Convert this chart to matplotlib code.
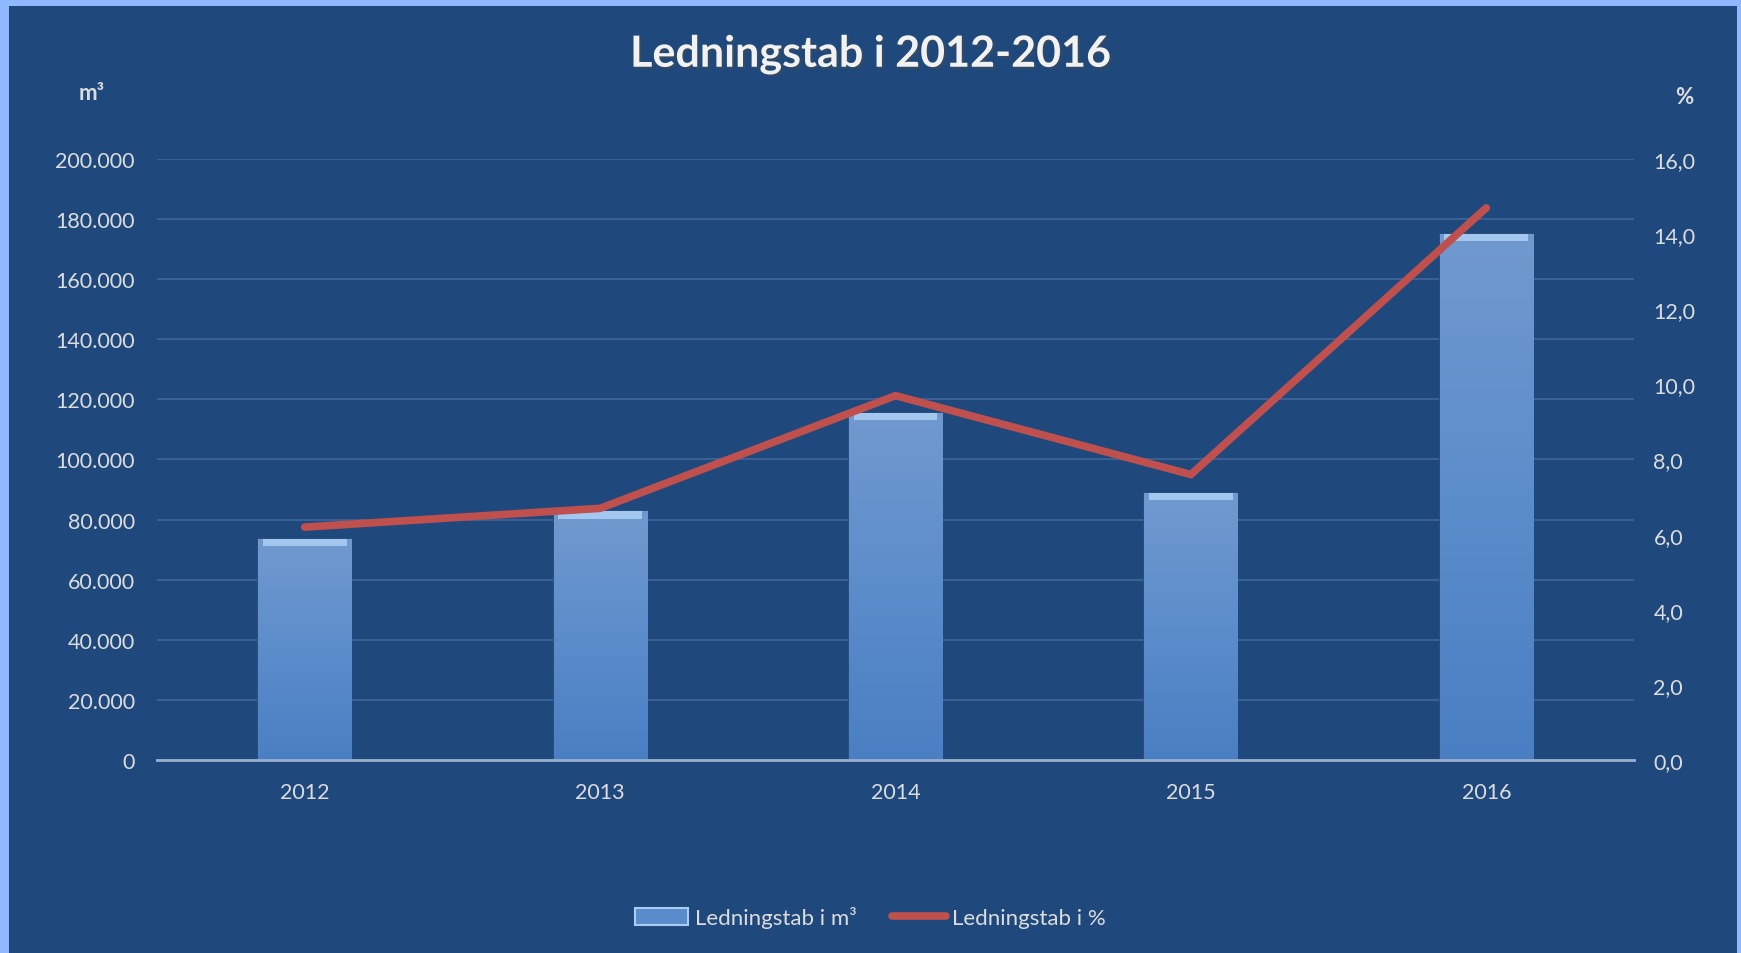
import numpy as np
import matplotlib.pyplot as plt
from matplotlib.patches import Rectangle, Patch
from matplotlib.lines import Line2D
from matplotlib.colors import LinearSegmentedColormap
import matplotlib.patheffects as pe

plt.rcParams['font.family'] = ['Lato', 'DejaVu Sans']

years = ['2012', '2013', '2014', '2015', '2016']
tab_m3 = [73500, 82700, 115500, 88800, 175200]
tab_pct = [6.2, 6.7, 9.7, 7.6, 14.7]

bg = '#1F497D'
border = '#8FB9FF'
txt = '#DCDCDC'

fig = plt.figure(figsize=(17.41, 9.54), dpi=100)
fig.patch.set_facecolor(border)
# dark panel inside the light border
fig.patches.append(Rectangle((9 / 1741, 0), (1737 - 9) / 1741, 947 / 954,
                             transform=fig.transFigure, facecolor=bg,
                             edgecolor='none', zorder=-10))

ax = fig.add_axes([157 / 1741, (954 - 761) / 954, (1634 - 157) / 1741, 601 / 954])
ax.patch.set_visible(False)
x = np.arange(len(years))
bw = 0.315

bars = ax.bar(x, tab_m3, bw, color='#5A8BCB', edgecolor='#2B4F7E', linewidth=1.4, zorder=2)

# vertical gradient inside each bar
cmap = LinearSegmentedColormap.from_list('bar', ['#4A7FC3', '#5C8DCB', '#7199CF'])
grad = np.linspace(0, 1, 256).reshape(-1, 1)
for b in bars:
    im = ax.imshow(grad, cmap=cmap, origin='lower', aspect='auto',
                   extent=[b.get_x(), b.get_x() + b.get_width(), 0, b.get_height()],
                   zorder=2.5)
    im.set_clip_path(b)

# light bevel on top of each bar
bev = 2400
ax.bar(x, [bev] * len(x), bw * 0.9, bottom=[v - bev for v in tab_m3],
       color='#A9CDF3', edgecolor='none', alpha=0.9, zorder=3)

ax.set_xlim(-0.5, len(years) - 0.5)
ax.set_ylim(0, 200000)
yt = np.arange(0, 200001, 20000)
ax.set_yticks(yt)
ax.set_yticklabels(['0' if v == 0 else f'{v:,}'.replace(',', '.') for v in yt])
ax.set_xticks(x)
ax.set_xticklabels(years)
ax.yaxis.grid(True, color='#3C6293', linewidth=1.4, zorder=0)
ax.set_axisbelow(True)
ax.tick_params(length=0, colors=txt, labelsize=15.5)
ax.tick_params(axis='y', pad=16)
ax.tick_params(axis='x', pad=16)
for s in ['top', 'right', 'left']:
    ax.spines[s].set_visible(False)
ax.spines['bottom'].set_color('#9AAFCB')
ax.spines['bottom'].set_linewidth(2)
ax.spines['bottom'].set_zorder(4)

ax2 = ax.twinx()
ax2.patch.set_visible(False)
ax2.plot(x, tab_pct, color='#C0504D', linewidth=5.5, solid_capstyle='round',
         solid_joinstyle='miter', zorder=5)
ax2.set_ylim(0, 16)
pt = np.arange(0, 16.1, 2)
ax2.set_yticks(pt)
ax2.set_yticklabels([f'{v:.1f}'.replace('.', ',') for v in pt])
ax2.tick_params(length=0, colors=txt, labelsize=15.5, pad=14)
for s in ax2.spines.values():
    s.set_visible(False)

fig.text(0.5, 1 - 55 / 954, 'Ledningstab i 2012-2016', ha='center', va='center',
         fontsize=31, fontweight='bold', color='#F2F2F2',
         path_effects=[pe.withSimplePatchShadow(offset=(1.5, -1.5), alpha=0.5)])
fig.text(92 / 1741, 1 - 94 / 954, 'm³', ha='center', va='center',
         fontsize=16, fontweight='bold', color=txt)
fig.text(1684 / 1741, 1 - 98 / 954, '%', ha='center', va='center',
         fontsize=16, fontweight='bold', color=txt)

handles = [Patch(facecolor='#5A8BCB', edgecolor='#A9CDF3', linewidth=1.5),
           Line2D([0], [0], color='#C0504D', linewidth=5.5, solid_capstyle='round')]
fig.legend(handles, ['Ledningstab i m³', 'Ledningstab i %'], loc='center',
           bbox_to_anchor=(0.5, 1 - 918 / 954), ncol=2, frameon=False,
           fontsize=16, labelcolor=txt, handlelength=2.4, handleheight=0.8,
           columnspacing=1.6, handletextpad=0.3)

fig.savefig('out.png', dpi=100, facecolor=fig.get_facecolor())
